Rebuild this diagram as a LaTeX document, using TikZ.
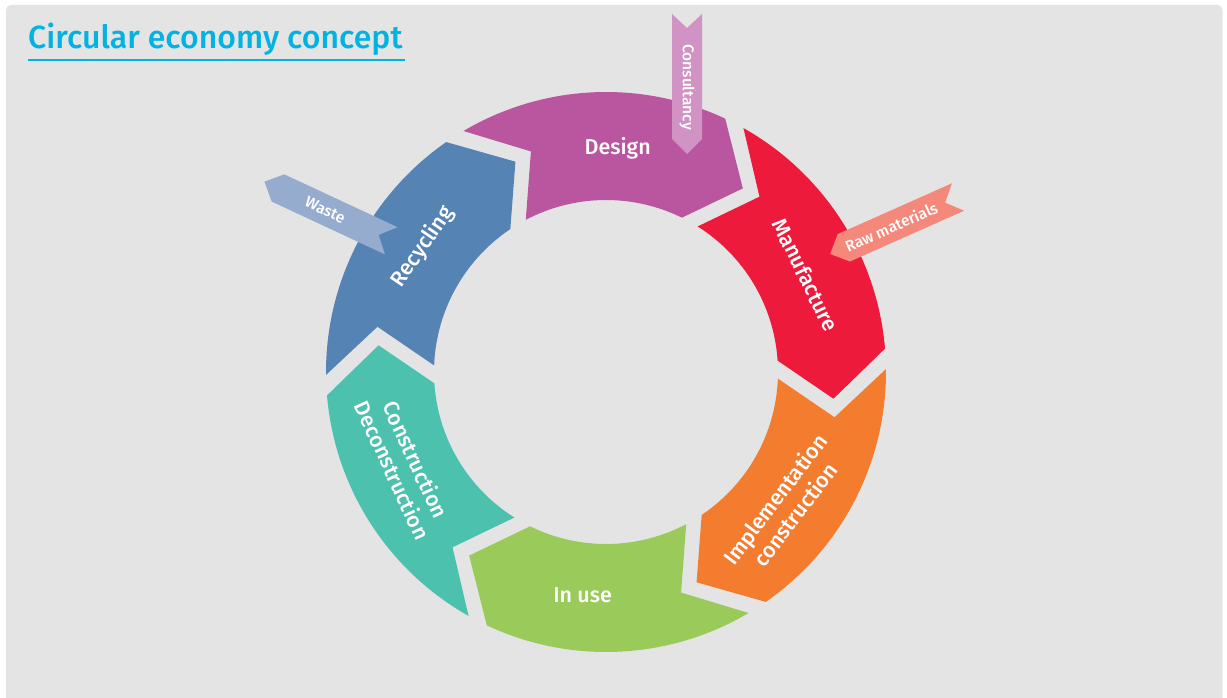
\documentclass[tikz,border=0pt]{standalone}
\usepackage{fontspec}
\setmainfont{Fira Sans}
\IfFontExistsTF{Fira Sans Medium}
  {\newfontfamily\labfont{Fira Sans Medium}}
  {\newfontfamily\labfont{Fira Sans}[FakeBold=2.2]}
\definecolor{panel}{HTML}{E4E4E4}
\definecolor{titlecyan}{HTML}{00B3E3}
\definecolor{cDesign}{HTML}{B9569F}
\definecolor{cManu}{HTML}{EE1A3C}
\definecolor{cImpl}{HTML}{F47C2F}
\definecolor{cUse}{HTML}{9ACB5A}
\definecolor{cCons}{HTML}{4BC1AE}
\definecolor{cRecy}{HTML}{5583B4}
\definecolor{rCons}{HTML}{D193C3}
\definecolor{rWaste}{HTML}{95ACCE}
\definecolor{rRaw}{HTML}{F4887B}
% one arrow segment of the ring; #1 = angle of its head tip, #2 = colour
\newcommand{\ringseg}[2]{%
  \fill[#2] (#1:229) -- ({#1+11.5}:280)
    arc[start angle={#1+11.5}, end angle={#1+67.3}, radius=280]
    -- ({#1+55.5}:233) -- ({#1+64.5}:172)
    arc[start angle={#1+64.5}, end angle={#1+10.5}, radius=172] -- cycle;}
% a ribbon arrow; #1 tail centre, #2 direction, #3 colour, #4 name of its middle
\newcommand{\ribbon}[4]{%
  \begin{scope}[shift={#1}, rotate=#2]
    \fill[#3] (0,15) -- (125,15) -- (140,0) -- (125,-15) -- (0,-15) -- (14,0) -- cycle;
    \coordinate (#4) at (73,0);
  \end{scope}}
\tikzset{
  seglabel/.style={text=white, font=\labfont\fontsize{21.5}{25.5}\selectfont, align=center, inner sep=0pt},
  riblabel/.style={text=white, font=\labfont\fontsize{15.5}{18}\selectfont, inner sep=0pt},
}
\begin{document}
\begin{tikzpicture}[x=1pt,y=1pt]
\useasboundingbox (0,0) rectangle (1227,697);
\fill[white] (0,0) rectangle (1227,697);
\fill[panel, rounded corners=5pt] (6,-20) rectangle (1222.5,692);
% title
\node[anchor=base west, inner sep=0pt, text=titlecyan, font=\labfont\fontsize{32}{38}\selectfont] (title) at (28,648) {Circular economy concept};
\draw[titlecyan, line width=1.5pt] (28,637) -- (405,637);
% ring
\begin{scope}[shift={(606,325)}]
  \ringseg{53.3}{cDesign}
  \ringseg{-6.7}{cManu}
  \ringseg{-66.7}{cImpl}
  \ringseg{-126.7}{cUse}
  \ringseg{173.3}{cCons}
  \ringseg{113.3}{cRecy}
  \node[seglabel] (design) at (87:224) {Design};
  \node[seglabel, rotate=-64] (manufacture) at (26:222) {Manufacture};
  \node[seglabel, rotate=53] (implementation) at (-37:224) {Implementation\\construction};
  \node[seglabel] (inuse) at (-96:224) {In use};
  \node[seglabel, rotate=-65.3] (construction) at (204.7:222) {Construction\\Deconstruction};
  \node[seglabel, rotate=55.7] (recycling) at (145.7:222) {Recycling};
\end{scope}
% ribbons
\ribbon{(687,683)}{-90}{rCons}{consmid}
\ribbon{(958,500)}{204}{rRaw}{rawmid}
\ribbon{(391.3,456.2)}{155}{rWaste}{wastemid}
\node[riblabel, rotate=-90] (consultancy) at (consmid) {Consultancy};
\node[riblabel, rotate=24] (raw) at (rawmid) {Raw materials};
\node[riblabel, rotate=-25] (waste) at (wastemid) {Waste};
\end{tikzpicture}
\end{document}
